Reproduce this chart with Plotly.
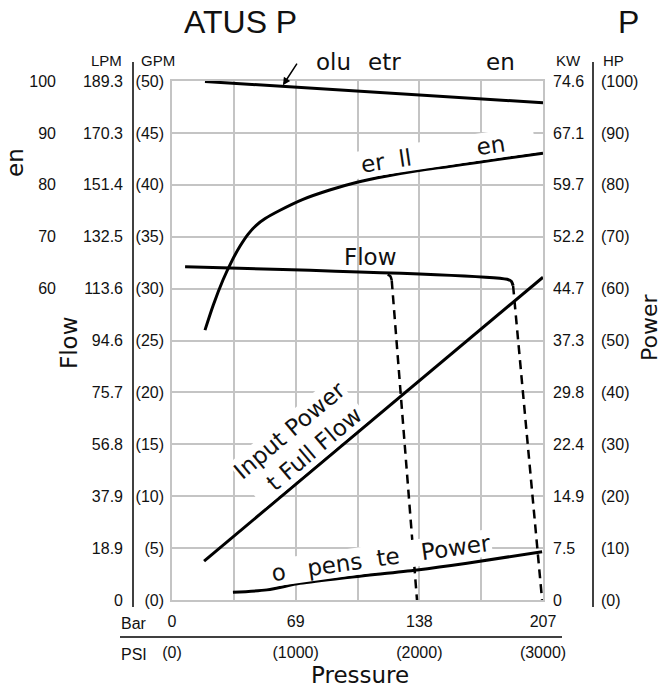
import plotly.graph_objects as go

W, H = 662, 688
# ---------------- data ----------------
bar_ticks = [0, 69, 138, 207]
bar_labels = ["0", "69", "138", "207"]
psi_labels = ["(0)", "(1000)", "(2000)", "(3000)"]

gpm_ticks = [0, 5, 10, 15, 20, 25, 30, 35, 40, 45, 50]
gpm_labels = ["(0)", "(5)", "(10)", "(15)", "(20)", "(25)", "(30)", "(35)", "(40)", "(45)", "(50)"]
lpm_labels = ["0", "18.9", "37.9", "56.8", "75.7", "94.6", "113.6", "132.5", "151.4", "170.3", "189.3"]
eff_ticks = [60, 70, 80, 90, 100]
eff_labels = ["60", "70", "80", "90", "100"]
hp_ticks = [0, 10, 20, 30, 40, 50, 60, 70, 80, 90, 100]
hp_labels = ["(0)", "(10)", "(20)", "(30)", "(40)", "(50)", "(60)", "(70)", "(80)", "(90)", "(100)"]
kw_labels = ["0", "7.5", "14.9", "22.4", "29.8", "37.3", "44.7", "52.2", "59.7", "67.1", "74.6"]

vol_eff_bar = [18.4, 207]
vol_eff_pct = [99.9, 95.8]

overall_eff_bar = [18.4, 23, 28.5, 33.5, 38, 42.5, 47, 52, 60.3, 73.1, 88, 103.3, 120, 136.8, 153.5, 170.2, 188.6, 207]
overall_eff_pct = [52.0, 56.8, 61.7, 65.4, 68.2, 70.5, 72.2, 73.5, 75.1, 77.2, 79.0, 80.5, 81.7, 82.7, 83.5, 84.3, 85.2, 86.1]

flow_bar = [7.3, 187.0, 189.3, 190.3]
flow_gpm = [32.1, 30.9, 30.7, 30.3]
hook2000_bar = [120.3, 121.8, 122.6]
hook2000_gpm = [31.35, 31.2, 30.8]
comp2000_bar = [122.6, 136.7]
comp2000_gpm = [30.8, 0]
comp3000_bar = [190.3, 206.5]
comp3000_gpm = [30.3, 0]

input_power_bar = [17.9, 207]
input_power_hp = [7.5, 62.2]

comp_power_bar = [34, 53, 71.4, 99.3, 136.7, 164.6, 206.5]
comp_power_hp = [1.5, 1.95, 3.2, 4.4, 5.8, 7.1, 9.3]

# ---------------- helpers ----------------
def px(x):
    return x / W

def py(y):
    return 1 - y / H

TICKF = dict(family="Liberation Sans, Arial, sans-serif", size=16, color="#111")
LABF = dict(family="DejaVu Sans, sans-serif", size=23, color="#111")
GRID = "#c4c4c4"
NB = "\u00a0"

fig = go.Figure()

def line(xs, ys, yaxis="y", dash="solid", width=3, shape="linear"):
    fig.add_trace(go.Scatter(x=xs, y=ys, mode="lines", yaxis=yaxis, xaxis="x",
                             line=dict(color="black", width=width, dash=dash, shape=shape, smoothing=0.8),
                             hoverinfo="skip", showlegend=False))

line(vol_eff_bar, vol_eff_pct, yaxis="y3")
line(overall_eff_bar, overall_eff_pct, yaxis="y3", shape="spline")
line(flow_bar, flow_gpm, shape="spline")
line(hook2000_bar, hook2000_gpm, shape="spline", width=2.5)
line(comp2000_bar, comp2000_gpm, dash="9px,6px", width=2.5)
line(comp3000_bar, comp3000_gpm, dash="9px,6px", width=2.5)
line(input_power_bar, input_power_hp, yaxis="y5")
line(comp_power_bar, comp_power_hp, yaxis="y5", shape="spline")

# invisible traces so that the label-only axes are drawn
fig.add_trace(go.Scatter(x=bar_ticks, y=gpm_ticks[:4], xaxis="x2", yaxis="y2", mode="markers",
                         marker=dict(opacity=0), hoverinfo="skip", showlegend=False))
fig.add_trace(go.Scatter(x=bar_ticks, y=[0, 0, 0, 0], xaxis="x3", yaxis="y4", mode="markers",
                         marker=dict(opacity=0), hoverinfo="skip", showlegend=False))

xdom = [px(172), px(543)]
ydom = [py(600), py(81)]

common = dict(automargin=False, zeroline=False, ticks="")
fig.update_layout(
    width=W, height=H,
    margin=dict(l=0, r=0, t=0, b=0, autoexpand=False),
    paper_bgcolor="white", plot_bgcolor="white",
    showlegend=False,
    xaxis=dict(domain=xdom, range=[0, 207], dtick=34.5, tick0=0, showticklabels=False,
               showgrid=True, gridcolor=GRID, gridwidth=1.5,
               showline=True, linecolor=GRID, linewidth=1.5, mirror=True, anchor="y", **common),
    xaxis2=dict(overlaying="x", range=[0, 207], tickmode="array", tickvals=bar_ticks,
                ticktext=bar_labels, showgrid=False, showline=False,
                anchor="free", position=py(610), side="bottom", tickfont=TICKF, **common),
    xaxis3=dict(overlaying="x", range=[0, 207], tickmode="array", tickvals=bar_ticks,
                ticktext=psi_labels, showgrid=False, showline=False,
                anchor="free", position=py(641), side="bottom", tickfont=TICKF, **common),
    yaxis=dict(domain=ydom, range=[0, 50], tickmode="array", tickvals=gpm_ticks, ticktext=gpm_labels,
               showgrid=True, gridcolor=GRID, gridwidth=1.5,
               showline=True, linecolor=GRID, linewidth=1.5, mirror=True,
               tickfont=TICKF, anchor="x", side="left", ticklabelstandoff=3, **common),
    yaxis2=dict(overlaying="y", range=[0, 50], tickmode="array", tickvals=gpm_ticks,
                ticktext=lpm_labels, showgrid=False, showline=False,
                anchor="free", position=px(133), side="left", tickfont=TICKF, ticklabelstandoff=10, **common),
    yaxis3=dict(overlaying="y", range=[0, 100], tickmode="array", tickvals=eff_ticks,
                ticktext=eff_labels, showgrid=False, showline=False,
                anchor="free", position=px(56), side="left", tickfont=TICKF, **common),
    yaxis4=dict(overlaying="y", range=[0, 74.57], tickmode="array",
                tickvals=[h * 0.7457 for h in hp_ticks], ticktext=kw_labels, showgrid=False,
                showline=False, anchor="x", side="right",
                tickfont=TICKF, ticklabelstandoff=9, **common),
    yaxis5=dict(overlaying="y", range=[0, 100], tickmode="array", tickvals=hp_ticks,
                ticktext=hp_labels, showgrid=False, showline=False,
                anchor="free", position=px(593), side="right", tickfont=TICKF, ticklabelstandoff=7, **common),
)

# separator lines
fig.add_shape(type="line", xref="paper", yref="paper", x0=px(133), x1=px(133), y0=py(62), y1=py(607),
              line=dict(color="black", width=1.5))
fig.add_shape(type="line", xref="paper", yref="paper", x0=px(593), x1=px(593), y0=py(62), y1=py(607),
              line=dict(color="black", width=1.5))
fig.add_shape(type="line", xref="paper", yref="paper", x0=px(120), x1=px(562), y0=py(637), y1=py(637),
              line=dict(color="black", width=1.5))

def ann(text, x, y, font, xanchor="center", angle=0, **kw):
    fig.add_annotation(text=text, x=px(x), y=py(y), xref="paper", yref="paper", showarrow=False,
                       xanchor=xanchor, yanchor="middle", textangle=angle, font=font, **kw)

HF = dict(family="Liberation Sans, Arial, sans-serif", size=15, color="#111")
ann("LPM", 107, 60, HF)
ann("GPM", 158, 60, HF)
ann("KW", 568, 60, HF)
ann("HP", 613, 60, HF)
ann("Bar", 119, 623, TICKF, xanchor="left")
ann("PSI", 119, 654, TICKF, xanchor="left")

TF = dict(family="Liberation Sans, Arial, sans-serif", size=32, color="#111")
ann("ATUS P", 240, 22, TF)
ann("P", 628, 22, TF)

ann("Pressure", 360, 675, LABF)
ann("Flow", 69, 343, LABF, angle=-90)
ann("en", 15, 163, LABF, angle=-90)
ann("Power", 649, 328, dict(LABF, size=22), angle=-90)

ann("olu", 333, 62, LABF)
ann("etr", 384, 62, LABF)
ann("en", 500, 62, LABF)

# arrow pointing to volumetric efficiency line
fig.add_annotation(x=61.9, y=99.2, xref="x", yref="y3", text="", showarrow=True,
                   ax=15, ay=-23, arrowhead=2, arrowsize=1, arrowwidth=1.5, arrowcolor="black")

# curve labels
fig.add_annotation(x=111.0, y=33.0, xref="x", yref="y", text="Flow", showarrow=False, font=LABF)
fig.add_annotation(x=145.5, y=85.9, xref="x", yref="y3", showarrow=False, font=LABF,
                   text=NB * 4 + "er" + NB * 2 + "ll" + NB * 9 + "en" + NB * 4,
                   textangle=-8.5, bgcolor="white", borderpad=0)
fig.add_annotation(x=70.9, y=30.4, xref="x", yref="y5", showarrow=False, font=LABF,
                   text="Input Power<br>" + NB * 2 + "t Full Flow",
                   textangle=-40, bgcolor="white", borderpad=0)
fig.add_annotation(x=112.5, y=7.9, xref="x", yref="y5", showarrow=False, font=LABF,
                   text=NB * 2 + "o" + NB * 3 + "pens" + NB * 2 + "te" + NB * 3 + "Power",
                   textangle=-8, bgcolor="white", borderpad=0)

fig.write_html("out.html", config={"displayModeBar": False},
               post_script="document.body.style.margin='0px';")
